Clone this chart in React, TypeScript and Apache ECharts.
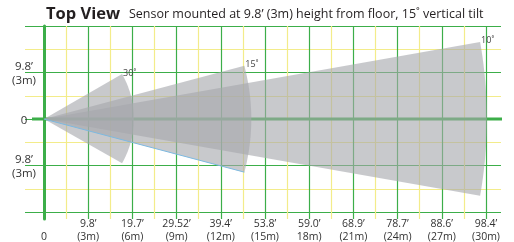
import React, { useEffect, useRef } from "react";
import * as echarts from "echarts";

// X axis (metres from sensor) and its two-line tick labels
const xTickTop = ["", "9.8’", "19.7’", "29.52’", "39.4’", "53.8’", "59.0’", "68.9’", "78.7’", "88.6’", "98.4’"];
const xTickBottom = ["0", "(3m)", "(6m)", "(9m)", "(12m)", "(15m)", "18m)", "(21m)", "(24m)", "(27m)", "(30m)"];
// Y axis (metres left/right of sensor)
const yTickValues = [-6, -3, 0, 3, 6];
const yTickLabels = ["", "9.8’\n(3m)", "0", "9.8’\n(3m)", ""];

// Detection cones: tip position (m) of upper and lower edge
const coneLabels = ["10˚", "15˚", "30˚"];
const coneTipX = [29.6, 13.6, 5.3];
const coneTipUpper = [4.97, 3.43, 2.9];
const coneTipLower = [-4.95, -3.43, -2.85];

// Centre line (y = 0) across the whole plot
const centreLineX = [0, 1];
const centreLineY = [0, 0];

const GREEN = "#3cae49";
const YELLOW = "#f3ec8a";
const FONT = "Open Sans";

export default function App() {
  const ref = useRef<HTMLDivElement>(null);
  useEffect(() => {
    if (!ref.current) return;
    const chart = echarts.init(ref.current, undefined, { renderer: "svg" });
    const coneData = coneLabels.map((_, i) => [coneTipX[i], coneTipUpper[i], coneTipLower[i]]);
    const centreData = centreLineX.map((x, i) => [x, centreLineY[i]]);
    const hidden = {
      axisLine: { show: false },
      axisTick: { show: false },
      axisLabel: { show: false },
      splitLine: { show: false },
    };
    chart.setOption({
      animation: false,
      title: [
        {
          text: "Top View",
          left: 46,
          top: 4,
          padding: 0,
          textStyle: { fontSize: 16.5, fontWeight: "bold", color: "#231f20", fontFamily: FONT },
        },
        {
          text: "Sensor mounted at 9.8’ (3m) height from floor, 15˚ vertical tilt",
          left: 129,
          top: 7,
          padding: 0,
          textStyle: { fontSize: 12.5, fontWeight: "normal", color: "#231f20", fontFamily: FONT },
        },
      ],
      grid: [
        { left: 44, right: 28, top: 26, bottom: 30 },
        { left: 44, right: 28, top: 26, bottom: 23 },
        { left: 25, right: 13, top: 26, bottom: 30 },
        { left: 32, right: 12, top: 26, bottom: 30 },
      ],
      xAxis: [
        {
          gridIndex: 0,
          type: "value",
          min: 0,
          max: 30,
          interval: 3,
          axisLine: { show: false, onZero: false },
          axisTick: { show: false },
          splitLine: { show: false },
          axisLabel: {
            margin: 5,
            color: "#333",
            fontSize: 10.5,
            lineHeight: 12.5,
            fontFamily: FONT,
            formatter: (v: number) => {
              const i = Math.round(v / 3);
              return xTickTop[i] + "\n" + xTickBottom[i];
            },
          },
        },
        {
          gridIndex: 1,
          type: "value",
          min: 0,
          max: 30,
          interval: 3,
          axisLine: { show: false, onZero: false },
          axisTick: { show: false },
          axisLabel: { show: false },
          splitLine: { show: true, lineStyle: { color: GREEN, width: 1.2 } },
          minorTick: { show: false, splitNumber: 2 },
          minorSplitLine: { show: true, lineStyle: { color: YELLOW, width: 1.2 } },
        },
        { gridIndex: 2, type: "value", min: 0, max: 1, ...hidden },
        { gridIndex: 3, type: "value", min: 0, max: 1, ...hidden },
      ],
      yAxis: [
        {
          gridIndex: 0,
          type: "value",
          min: -6,
          max: 6,
          interval: 3,
          axisLine: { show: false },
          axisTick: { show: false },
          splitLine: { show: false },
          axisLabel: {
            align: "center",
            margin: 20,
            color: "#333",
            fontSize: 11.5,
            lineHeight: 14,
            fontFamily: FONT,
            formatter: (v: number) => yTickLabels[yTickValues.indexOf(v)] ?? "",
          },
        },
        {
          gridIndex: 1,
          type: "value",
          min: 0,
          max: 1,
          axisLine: { show: true, lineStyle: { color: GREEN, width: 3 } },
          axisTick: { show: false },
          axisLabel: { show: false },
          splitLine: { show: false },
        },
        {
          gridIndex: 2,
          type: "value",
          min: -6,
          max: 6,
          interval: 3,
          axisLine: { show: false },
          axisTick: { show: false },
          axisLabel: { show: false },
          splitLine: { show: true, lineStyle: { color: GREEN, width: 1.2 } },
          minorTick: { show: false, splitNumber: 2 },
          minorSplitLine: { show: true, lineStyle: { color: YELLOW, width: 1.2 } },
        },
        { gridIndex: 3, type: "value", min: -6, max: 6, ...hidden },
      ],
      series: [
        {
          type: "line",
          xAxisIndex: 3,
          yAxisIndex: 3,
          z: 1,
          symbol: "none",
          silent: true,
          data: centreData,
          lineStyle: { color: GREEN, width: 3 },
        },
        {
          type: "custom",
          xAxisIndex: 0,
          yAxisIndex: 0,
          z: 20,
          data: coneData,
          renderItem: (params: any, api: any) => {
            const i = params.dataIndex;
            const o = api.coord([0, 0]);
            const pu = api.coord([api.value(0), api.value(1)]);
            const pl = api.coord([api.value(0), api.value(2)]);
            const ru = Math.hypot(pu[0] - o[0], pu[1] - o[1]);
            const rl = Math.hypot(pl[0] - o[0], pl[1] - o[1]);
            const a1 = Math.atan2(pu[1] - o[1], pu[0] - o[0]);
            const a2 = Math.atan2(pl[1] - o[1], pl[0] - o[0]);
            const pts: number[][] = [o];
            const N = 48;
            for (let k = 0; k <= N; k++) {
              const t = k / N;
              const a = a1 + (a2 - a1) * t;
              const r = ru + (rl - ru) * t;
              pts.push([o[0] + r * Math.cos(a), o[1] + r * Math.sin(a)]);
            }
            const children: any[] = [
              {
                type: "polygon",
                z2: 10,
                shape: { points: pts },
                style: { fill: "rgba(167,168,172,0.62)" },
              },
              {
                type: "text",
                z2: 20,
                x: pu[0] + 1,
                y: pu[1] - 2,
                style: {
                  text: coneLabels[i],
                  fill: "#444",
                  fontSize: 9,
                  fontFamily: FONT,
                  align: "left",
                  verticalAlign: "middle",
                },
              },
            ];
            if (i === 1) {
              children.push({
                type: "line",
                z2: 15,
                shape: { x1: o[0], y1: o[1], x2: pl[0], y2: pl[1] },
                style: { stroke: "#7db9e0", lineWidth: 1 },
              });
            }
            return { type: "group", children };
          },
        },
      ],
    });
    return () => chart.dispose();
  }, []);
  return <div ref={ref} style={{ position: "fixed", left: 0, top: 0, width: 514, height: 242 }} />;
}
